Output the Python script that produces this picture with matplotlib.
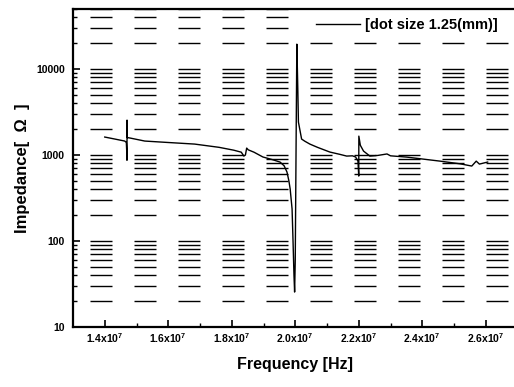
import matplotlib
matplotlib.use('Agg')
import matplotlib.pyplot as plt
from matplotlib.patches import Rectangle
from matplotlib.ticker import LogLocator, FixedLocator, NullFormatter

plt.rcParams['font.family'] = ['Liberation Sans', 'DejaVu Sans']
plt.rcParams['mathtext.fontset'] = 'custom'
plt.rcParams['mathtext.bf'] = 'Liberation Sans:bold'
plt.rcParams['mathtext.rm'] = 'Liberation Sans:bold'
plt.rcParams['lines.scale_dashes'] = False

# Frequency (Hz) and impedance (ohm)
freq = [1.400e7, 1.430e7, 1.463e7, 1.468e7, 1.4695e7, 1.4700e7, 1.4702e7, 1.4708e7,
        1.480e7, 1.526e7, 1.600e7, 1.683e7, 1.760e7, 1.806e7, 1.830e7, 1.838e7,
        1.843e7, 1.847e7, 1.852e7, 1.870e7, 1.898e7, 1.930e7, 1.952e7, 1.965e7,
        1.974e7, 1.980e7, 1.984e7, 1.990e7, 1.993e7, 1.996e7, 1.998e7, 2.000e7,
        2.003e7, 2.005e7, 2.008e7, 2.010e7, 2.020e7, 2.030e7, 2.046e7, 2.070e7,
        2.109e7, 2.140e7, 2.162e7, 2.180e7, 2.190e7, 2.1975e7, 2.200e7, 2.2003e7,
        2.205e7, 2.215e7, 2.235e7, 2.260e7, 2.289e7, 2.300e7, 2.351e7, 2.400e7,
        2.456e7, 2.520e7, 2.556e7, 2.570e7, 2.580e7, 2.606e7]
impedance = [1620, 1540, 1455, 1400, 1050, 870, 2550, 1600,
             1577, 1455, 1400, 1342, 1230, 1140, 1080, 975,
             1000, 1206, 1150, 1080, 950, 880, 829, 750,
             634, 500, 403, 236, 100, 40, 25.5, 60,
             2000, 19500, 6000, 2420, 1535, 1450, 1342, 1230,
             1084, 1020, 973, 980, 950, 850, 570, 1660,
             1300, 1113, 973, 990, 1030, 980, 947, 900,
             850, 790, 745, 850, 785, 829]

xticks = [1.4e7, 1.6e7, 1.8e7, 2.0e7, 2.2e7, 2.4e7, 2.6e7]
xticklabels = ['1.4x10$^{7}$', '1.6x10$^{7}$', '1.8x10$^{7}$', '2.0x10$^{7}$',
               '2.2x10$^{7}$', '2.4x10$^{7}$', '2.6x10$^{7}$']
xminor = [1.5e7, 1.7e7, 1.9e7, 2.1e7, 2.3e7, 2.5e7]
yticks = [10, 100, 1000, 10000]
yticklabels = ['10', '100', '1000', '10000']
legend_label = '[dot size 1.25(mm)]'

fig = plt.figure(figsize=(5.14, 3.87), dpi=100)
ax = fig.add_axes([73 / 514, 60 / 387, 444.5 / 514, 318 / 387])
ax.set_axisbelow(True)

ax.plot(freq, impedance, color='black', lw=1.0, label=legend_label, zorder=3)

ax.set_yscale('log')
ax.set_xlim(1.3e7, 2.7e7)
ax.set_ylim(10, 50000)

ax.xaxis.set_major_locator(FixedLocator(xticks))
ax.set_xticklabels(xticklabels, fontsize=7.5, fontweight='bold')
ax.xaxis.set_minor_locator(FixedLocator(xminor))
ax.set_yticks(yticks)
ax.set_yticklabels(yticklabels, fontsize=7.5, fontweight='bold')
ax.yaxis.set_minor_locator(LogLocator(base=10, subs=range(2, 10)))
ax.yaxis.set_minor_formatter(NullFormatter())

ax.tick_params(which='major', direction='in', length=5, width=1.2, pad=6)
ax.tick_params(axis='x', which='major', pad=3)
ax.tick_params(which='minor', direction='in', length=3, width=1.0)

# dashed horizontal grid at every decade step
dash = (27 * 0.72, (22 * 0.72, 22 * 0.72))
ax.yaxis.grid(True, which='both', color='black', lw=1.0, linestyle=dash)
ax.xaxis.grid(False)

for side in ['left', 'bottom', 'top']:
    ax.spines[side].set_linewidth(1.6)
ax.spines['right'].set_visible(False)

ax.set_xlabel('Frequency [Hz]', fontsize=11.5, fontweight='bold', labelpad=9)
ax.set_ylabel('Impedance[  \u03a9  ]', fontsize=12, fontweight='bold', labelpad=4)

# white box behind the legend hides the top grid rows there
ax.add_patch(Rectangle((0.502, 0.912), 0.6, 0.09, transform=ax.transAxes,
                       facecolor='white', edgecolor='none', zorder=2.2))

ax.legend(loc='center left', bbox_to_anchor=(316 / 514, 1 - 25 / 387),
          bbox_transform=fig.transFigure, frameon=False, borderpad=0,
          borderaxespad=0, handlelength=3.0, handletextpad=0.35,
          prop={'size': 10.5, 'weight': 'bold'})

fig.savefig('out.png', dpi=100)
